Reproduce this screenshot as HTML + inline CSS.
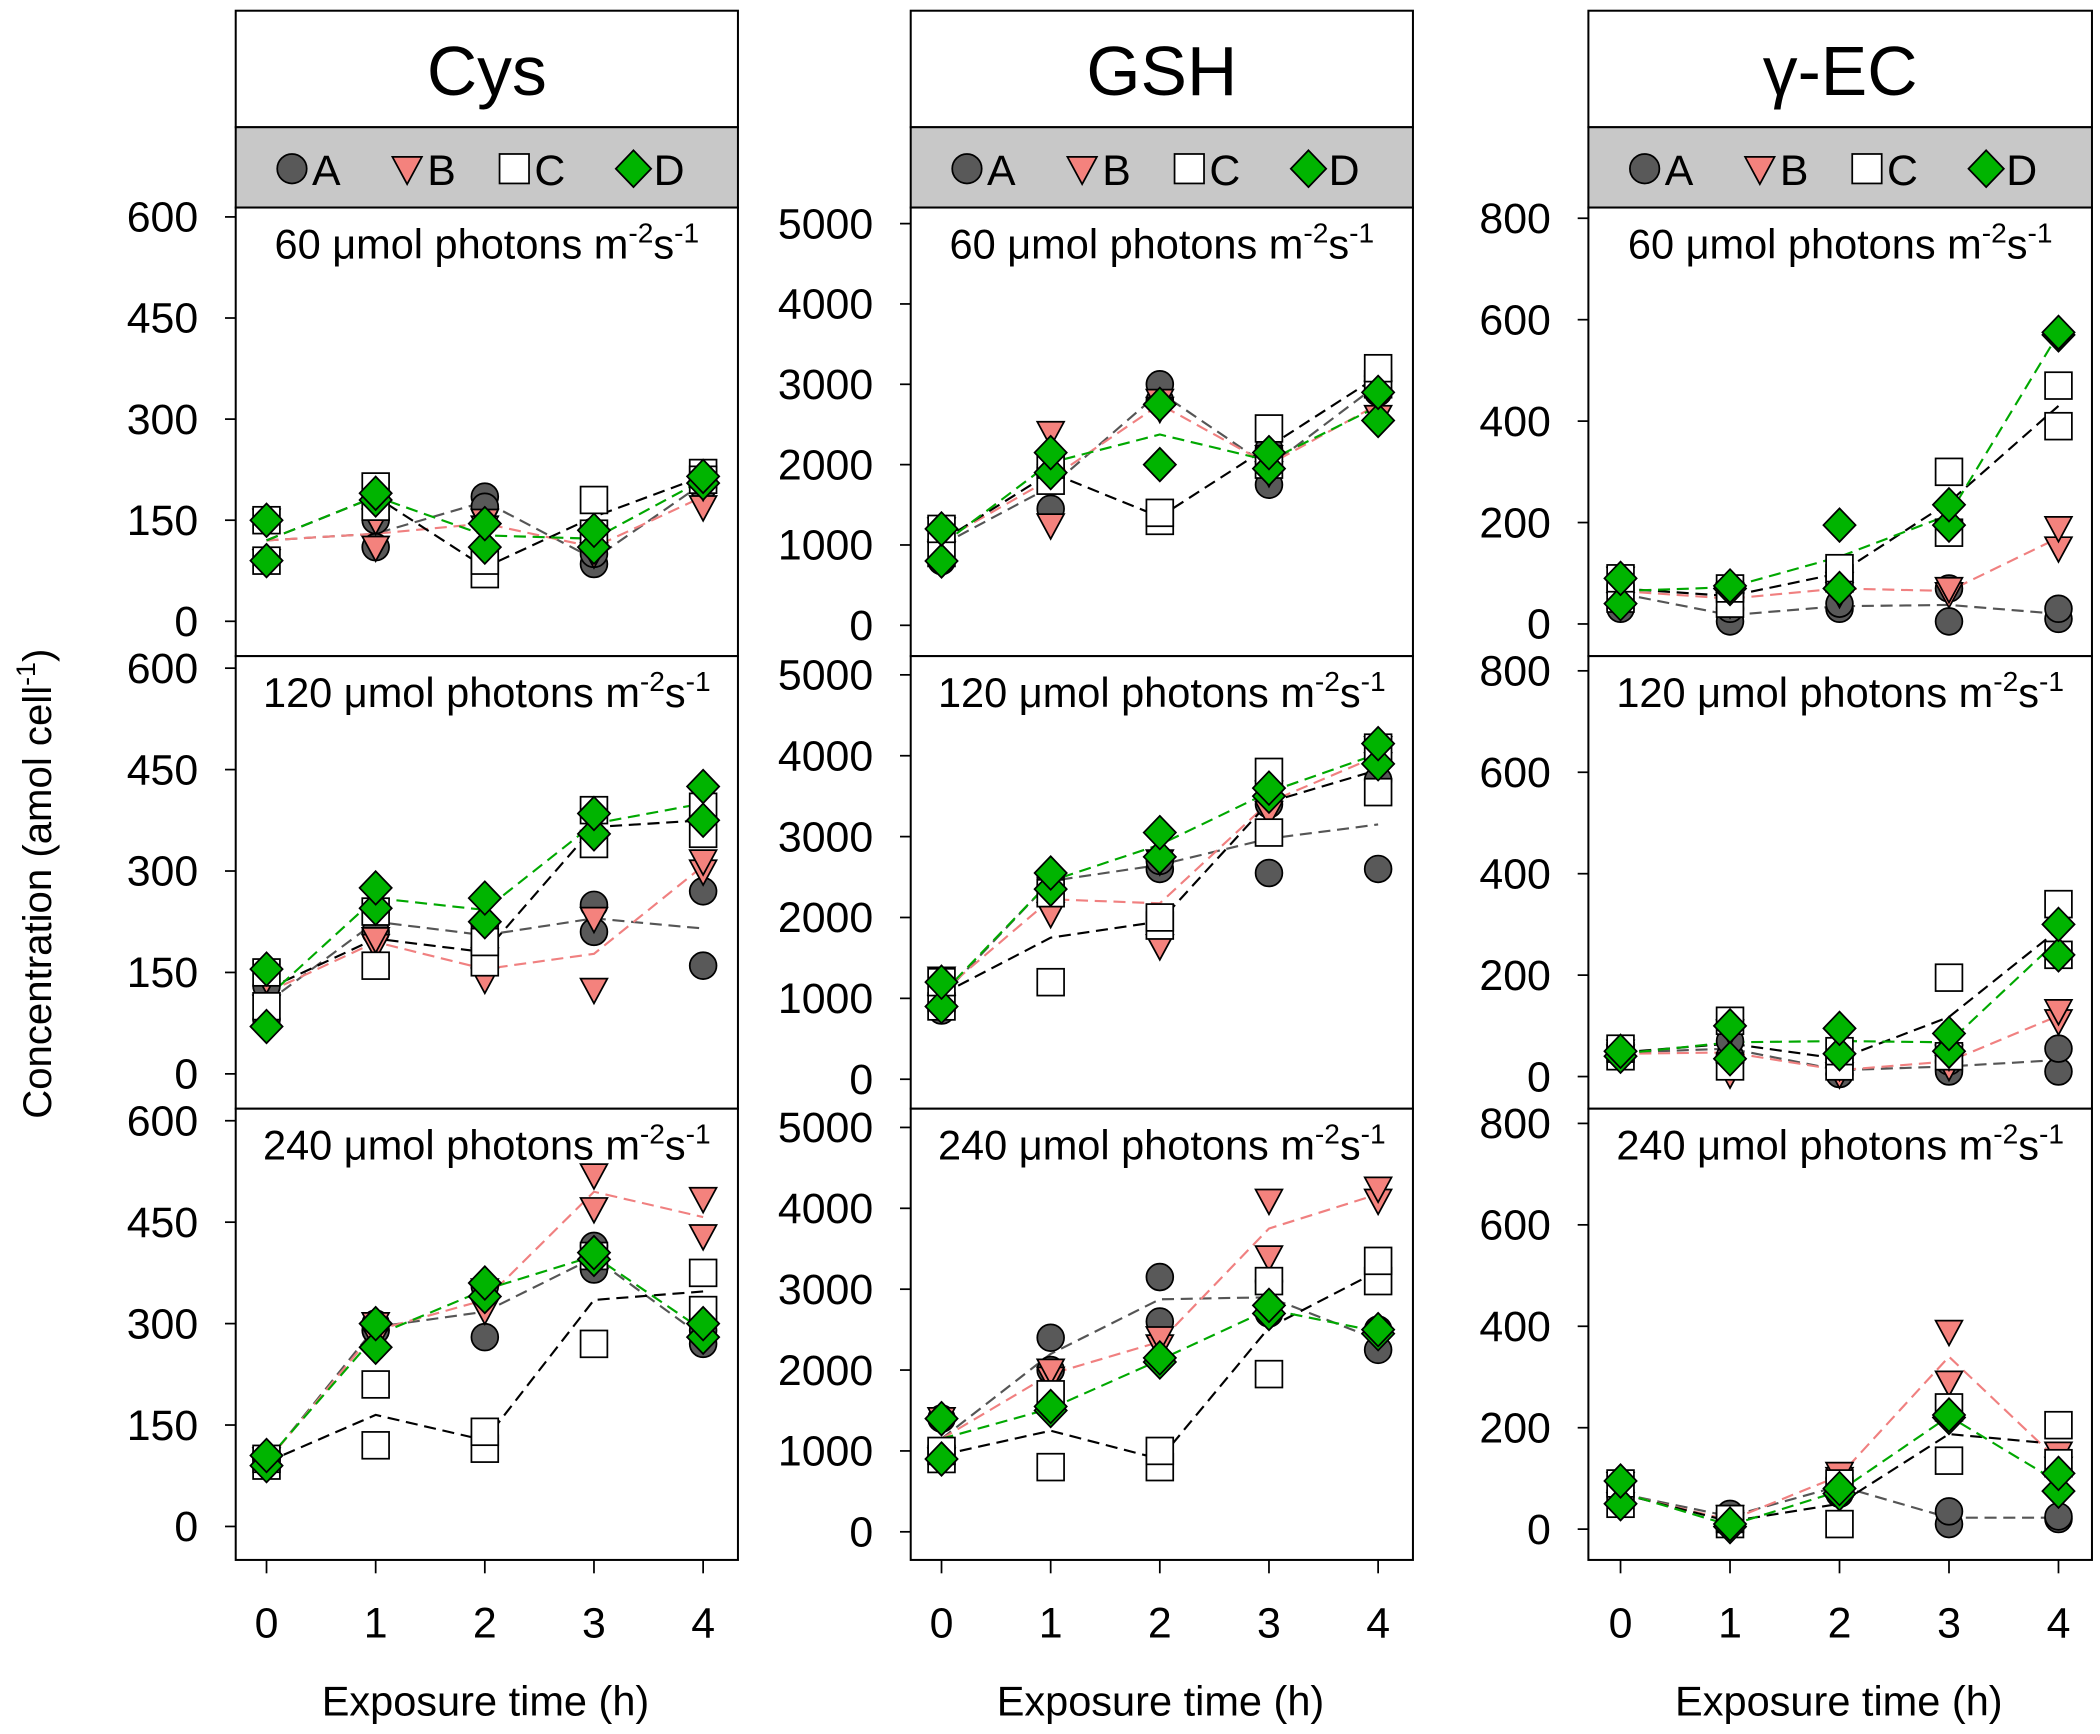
<!DOCTYPE html>
<html><head><meta charset="utf-8"><style>
html,body{margin:0;padding:0;background:#fff;}
svg{display:block;font-family:"Liberation Sans",Arial,sans-serif;}
</style></head><body>
<svg id="s" width="2100" height="1734" viewBox="0 0 1568 1295" preserveAspectRatio="none" xmlns="http://www.w3.org/2000/svg"></svg>
<script>
const S=document.getElementById('s');let h='';
const cols=[
 {L:176,R:551,x0:199,dx:81.5,max:600,step:150,name:'Cys',
  p:[[162,464],[499,802],[837,1140]],
  d:[
   {A:[[90,150],[110,150],[185,170],[85,100],[210,200]],B:[[90,150],[110,150],[150,140],[100,120],[170,200]],C:[[90,150],[200,170],[70,90],[180,130],[220,210]],D:[[90,150],[180,190],[110,145],[110,135],[205,215]]},
   {A:[[80,130],[240,210],[190,220],[210,250],[160,270]],B:[[100,140],[190,200],[140,170],[125,230],[300,315]],C:[[100,150],[160,240],[165,195],[340,390],[355,395]],D:[[70,155],[245,275],[225,260],[355,385],[375,425]]},
   {A:[[90,100],[290,300],[280,355],[380,415],[270,290]],B:[[90,100],[280,300],[320,350],[470,520],[430,485]],C:[[90,100],[120,210],[115,140],[270,400],[320,375]],D:[[90,105],[265,300],[340,360],[395,405],[280,300]]}]},
 {L:680,R:1055,x0:703,dx:81.5,max:5000,step:1000,name:'GSH',
  p:[[167,467],[504,806],[842,1144]],
  d:[
   {A:[[800,1200],[1450,2000],[2800,3000],[1750,2200],[2900,3100]],B:[[900,1200],[1250,2400],[2700,2800],[1900,2100],[2600,2900]],C:[[900,1200],[1800,2000],[1300,1400],[2000,2450],[3000,3200]],D:[[800,1200],[1900,2150],[2000,2750],[1950,2150],[2550,2900]]},
   {A:[[850,1200],[2400,2500],[2600,2700],[2550,3400],[2600,3700]],B:[[900,1250],[2050,2400],[1650,2700],[3300,3550],[3900,4100]],C:[[900,1200],[1200,2300],[1900,2000],[3050,3800],[3550,4100]],D:[[900,1200],[2350,2550],[2750,3050],[3500,3600],[3900,4150]]},
   {A:[[900,1400],[2000,2400],[2600,3150],[2700,3100],[2250,2500]],B:[[900,1400],[1900,2000],[2300,2400],[3400,4100],[4100,4250]],C:[[900,1000],[800,1700],[800,1000],[1950,3100],[3100,3350]],D:[[900,1400],[1500,1550],[2100,2150],[2700,2800],[2450,2500]]}]},
 {L:1186,R:1562,x0:1210,dx:81.75,max:800,step:200,name:'γ-EC',
  p:[[163,466],[501,804],[839,1142]],
  d:[
   {A:[[30,90],[5,30],[30,40],[5,70],[10,30]],B:[[40,90],[40,60],[60,80],[60,70],[150,190]],C:[[50,90],[40,70],[90,110],[180,300],[390,470]],D:[[40,90],[70,75],[70,195],[195,235],[570,575]]},
   {A:[[40,55],[40,70],[5,20],[10,30],[10,55]],B:[[40,50],[5,90],[5,20],[20,40],[110,130]],C:[[40,55],[20,110],[20,50],[40,195],[240,340]],D:[[40,50],[35,100],[45,95],[50,85],[240,300]]},
   {A:[[50,90],[20,30],[70,100],[10,35],[20,25]],B:[[50,90],[10,25],[100,110],[290,390],[120,150]],C:[[50,90],[10,20],[10,90],[135,240],[130,205]],D:[[50,95],[5,10],[70,80],[220,225],[75,110]]}]}
];
const lc={A:'#555',B:'#f08080',C:'#000',D:'#00a800'};
function mk(k,x,y,r){r=r||10;
 if(k=='A')return `<circle cx="${x}" cy="${y}" r="${r}" fill="#595959" stroke="#000" stroke-width="1.3"/>`;
 if(k=='B')return `<polygon points="${x-r},${y-r*0.8} ${x+r},${y-r*0.8} ${x},${y+r*1.05}" fill="#f4827d" stroke="#000" stroke-width="1.3"/>`;
 if(k=='C')return `<rect x="${x-r}" y="${y-r}" width="${2*r}" height="${2*r}" fill="#fff" stroke="#000" stroke-width="1.3"/>`;
 return `<polygon points="${x},${y-r*1.25} ${x+r*1.2},${y} ${x},${y+r*1.25} ${x-r*1.2},${y}" fill="#00b400" stroke="#000" stroke-width="1.3"/>`;}
const lbl=['60','120','240'];
cols.forEach((c,ci)=>{
 const cx=(c.L+c.R)/2;
 h+=`<rect x="${c.L}" y="8" width="${c.R-c.L}" height="87" fill="#fff" stroke="#000" stroke-width="1.5"/>`;
 h+=`<text x="${cx}" y="71" font-size="52" text-anchor="middle">${c.name}</text>`;
 h+=`<rect x="${c.L}" y="95" width="${c.R-c.L}" height="60" fill="#c8c8c8" stroke="#000" stroke-width="1.5"/>`;
 const o=c.L-176;
 [['A',218],['B',304],['C',384],['D',473]].forEach(([k,x])=>{h+=mk(k,x+o,126,11);h+=`<text x="${x+o+15}" y="138" font-size="32">${k}</text>`;});
 const pb=[155,490,828,1165];
 for(let p=0;p<3;p++){
  const [ytop,y0]=c.p[p];const sc=(y0-ytop)/c.max;const Y=v=>y0-v*sc;
  h+=`<rect x="${c.L}" y="${pb[p]}" width="${c.R-c.L}" height="${pb[p+1]-pb[p]}" fill="#fff" stroke="#000" stroke-width="1.5"/>`;
  for(let v=0;v<=c.max;v+=c.step){h+=`<line x1="${c.L-8}" x2="${c.L}" y1="${Y(v)}" y2="${Y(v)}" stroke="#000" stroke-width="1.3"/>`;
   h+=`<text x="${c.L-28}" y="${Y(v)+11}" font-size="32" text-anchor="end">${v}</text>`;}
  for(let t=0;t<5;t++){const x=c.x0+t*c.dx;
   if(p<2)h+=`<line x1="${x}" x2="${x}" y1="${pb[p+1]}" y2="${pb[p+1]+8}" stroke="#000" stroke-width="1.3"/>`;
   else h+=`<line x1="${x}" x2="${x}" y1="1165" y2="1175" stroke="#000" stroke-width="1.3"/>`;}
  h+=`<text x="${cx}" y="${pb[p]+38}" font-size="31" text-anchor="middle">${lbl[p]} <tspan>μ</tspan>mol photons m<tspan dy="-12" font-size="21">-2</tspan><tspan dy="12">s</tspan><tspan dy="-12" font-size="21">-1</tspan></text>`;
  const d=c.d[p];
  ['A','B','C','D'].forEach(k=>{const pts=d[k].map((r,t)=>`${c.x0+t*c.dx},${Y((r[0]+r[1])/2)}`).join(' ');
   h+=`<polyline points="${pts}" fill="none" stroke="${lc[k]}" stroke-width="1.6" stroke-dasharray="9,5"/>`;});
  ['A','B','C','D'].forEach(k=>{d[k].forEach((r,t)=>{r.forEach(v=>{h+=mk(k,c.x0+t*c.dx,Y(v));});});});
 }
 for(let t=0;t<5;t++)h+=`<text x="${c.x0+t*c.dx}" y="1223" font-size="32" text-anchor="middle">${t}</text>`;
 h+=`<text x="${cx-1}" y="1281" font-size="31" text-anchor="middle">Exposure time (h)</text>`;
});
h+=`<text transform="translate(38,660) rotate(-90)" font-size="30" text-anchor="middle">Concentration (amol cell<tspan dy="-12" font-size="20">-1</tspan><tspan dy="12">)</tspan></text>`;
S.innerHTML=h;
</script>
</body></html>
